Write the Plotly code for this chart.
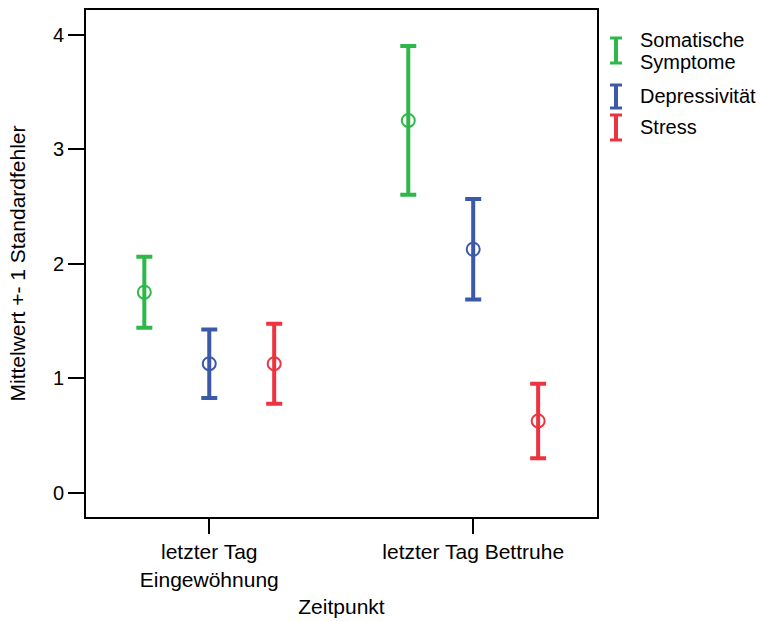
import plotly.graph_objects as go

# Zeitpunkte (x categories)
zeitpunkte = ["letzter Tag<br>Eingewöhnung", "letzter Tag Bettruhe"]

# Mittelwerte und Standardfehler je Skala
somatisch_mw = [1.75, 3.25]
somatisch_se = [0.31, 0.65]
depress_mw = [1.125, 2.125]
depress_se = [0.30, 0.44]
stress_mw = [1.125, 0.625]
stress_se = [0.35, 0.325]

serien = [
    ("Somatische Symptome", somatisch_mw, somatisch_se, "#2fb84a", -0.246),
    ("Depressivität", depress_mw, depress_se, "#3c58a8", 0.0),
    ("Stress", stress_mw, stress_se, "#ee3340", 0.246),
]

FONT = "Liberation Sans, Arial, sans-serif"
W, H = 764, 622
L, R, T, B = 86, 597, 10, 517   # plot-area edges in pixels

fig = go.Figure()

for name, mw, se, col, off in serien:
    fig.add_trace(go.Scatter(
        x=[i + 1 + off for i in range(len(zeitpunkte))],
        y=mw,
        mode="markers",
        name=name,
        showlegend=False,
        marker=dict(symbol="circle-open", size=13, color=col,
                    line=dict(width=2, color=col)),
        error_y=dict(type="data", array=se, visible=True,
                     color=col, thickness=4, width=8),
    ))


def px_x(p):
    return (p - L) / (R - L)


def px_y(p):
    return (B - p) / (B - T)


# Legend drawn as error-bar glyphs with labels beside the plot
legend_rows = [(38, 63, ["Somatische", "Symptome"], [40, 62]),
               (85, 108, ["Depressivität"], [96]),
               (115, 140, ["Stress"], [127])]
for (y0, y1, texts, ty), (_, _, _, col, _) in zip(legend_rows, serien):
    fig.add_shape(type="line", xref="paper", yref="paper",
                  x0=px_x(616), x1=px_x(616), y0=px_y(y0), y1=px_y(y1),
                  line=dict(color=col, width=4))
    for yy in (y0, y1):
        fig.add_shape(type="line", xref="paper", yref="paper",
                      x0=px_x(610), x1=px_x(622), y0=px_y(yy), y1=px_y(yy),
                      line=dict(color=col, width=3))
    for t, yt in zip(texts, ty):
        fig.add_annotation(xref="paper", yref="paper", x=px_x(638),
                           y=px_y(yt), text=t, showarrow=False,
                           xanchor="left", yanchor="middle",
                           font=dict(size=20, color="black", family=FONT))

fig.update_layout(
    width=W, height=H,
    margin=dict(l=L, r=W - R, t=T, b=H - B),
    paper_bgcolor="white", plot_bgcolor="white",
    font=dict(family=FONT, size=21, color="black"),
)
fig.update_xaxes(
    range=[0.533, 2.469], tickvals=[1, 2], ticktext=zeitpunkte,
    tickfont=dict(size=21, family=FONT, color="black"),
    ticks="outside", ticklen=15, tickwidth=2, tickcolor="black",
    showline=True, linewidth=2, linecolor="black", mirror=True,
    showgrid=False, zeroline=False, automargin=False,
    title=dict(text="Zeitpunkt", standoff=10,
               font=dict(size=21, family=FONT, color="black")),
)
fig.update_yaxes(
    range=[-0.214, 4.215], tickvals=[0, 1, 2, 3, 4],
    tickfont=dict(size=20, family=FONT, color="black"),
    ticks="outside", ticklen=16, tickwidth=2, tickcolor="black",
    showline=True, linewidth=2, linecolor="black", mirror=True,
    showgrid=False, zeroline=False, automargin=False,
    title=dict(text="Mittelwert +- 1 Standardfehler", standoff=22,
               font=dict(size=21, family=FONT, color="black")),
)

fig.write_html("out.html")
